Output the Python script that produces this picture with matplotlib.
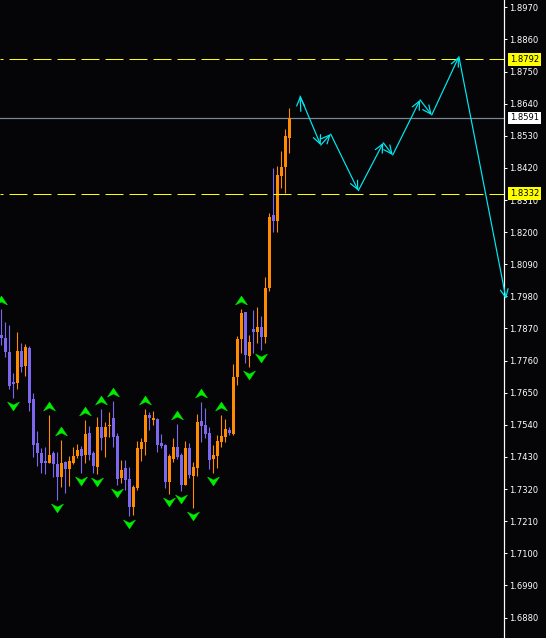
import numpy as np
import matplotlib
matplotlib.use("Agg")
import matplotlib.pyplot as plt
from matplotlib.path import Path
import matplotlib.transforms as mtransforms

# ---------------- data ----------------
opens = [1.7848, 1.7837, 1.7789, 1.7687, 1.7683, 1.7793, 1.7742, 1.7803, 1.7628, 1.7478,
         1.7444, 1.7416, 1.7409, 1.7444, 1.7406, 1.7361, 1.7413, 1.7389, 1.7409, 1.7433,
         1.7457, 1.7437, 1.7512, 1.7444, 1.7396, 1.7533, 1.7498, 1.7536, 1.7563, 1.7502,
         1.7358, 1.7392, 1.7354, 1.7259, 1.7324, 1.7457, 1.7481, 1.7574, 1.7557, 1.7560,
         1.7478, 1.7471, 1.7344, 1.7423, 1.7464, 1.7437, 1.7334, 1.7461, 1.7365, 1.7392,
         1.7553, 1.7539, 1.7512, 1.7423, 1.7433, 1.7481, 1.7498, 1.7522, 1.7509, 1.7704,
         1.7834, 1.7926, 1.7776, 1.7868, 1.7858, 1.7875, 1.7841, 1.8009, 1.8259, 1.8238,
         1.8392, 1.8423, 1.8522]
highs = [1.7937, 1.7892, 1.7882, 1.7717, 1.7858, 1.7820, 1.7817, 1.7810, 1.7649, 1.7519,
         1.7461, 1.7464, 1.7574, 1.7450, 1.7447, 1.7488, 1.7416, 1.7433, 1.7464, 1.7474,
         1.7468, 1.7557, 1.7536, 1.7450, 1.7567, 1.7594, 1.7550, 1.7584, 1.7622, 1.7512,
         1.7420, 1.7420, 1.7396, 1.7334, 1.7485, 1.7495, 1.7594, 1.7584, 1.7587, 1.7563,
         1.7509, 1.7474, 1.7440, 1.7495, 1.7543, 1.7444, 1.7485, 1.7478, 1.7413, 1.7577,
         1.7618, 1.7598, 1.7533, 1.7471, 1.7505, 1.7574, 1.7560, 1.7533, 1.7748, 1.7844,
         1.7937, 1.7926, 1.7848, 1.7933, 1.7944, 1.7913, 1.8046, 1.8266, 1.8420, 1.8426,
         1.8478, 1.8553, 1.8625]
lows = [1.7813, 1.7772, 1.7663, 1.7632, 1.7663, 1.7721, 1.7707, 1.7587, 1.7430, 1.7399,
        1.7375, 1.7372, 1.7409, 1.7361, 1.7283, 1.7327, 1.7307, 1.7330, 1.7406, 1.7426,
        1.7375, 1.7409, 1.7420, 1.7375, 1.7372, 1.7454, 1.7430, 1.7498, 1.7464, 1.7334,
        1.7341, 1.7317, 1.7228, 1.7231, 1.7317, 1.7416, 1.7437, 1.7522, 1.7539, 1.7447,
        1.7461, 1.7324, 1.7303, 1.7413, 1.7423, 1.7313, 1.7334, 1.7358, 1.7255, 1.7365,
        1.7481, 1.7495, 1.7389, 1.7375, 1.7392, 1.7464, 1.7481, 1.7505, 1.7505, 1.7676,
        1.7786, 1.7752, 1.7738, 1.7786, 1.7820, 1.7796, 1.7820, 1.7998, 1.8200, 1.8200,
        1.8351, 1.8334, 1.8471]
closes = [1.7837, 1.7789, 1.7673, 1.7680, 1.7793, 1.7738, 1.7806, 1.7615, 1.7471, 1.7444,
          1.7409, 1.7409, 1.7437, 1.7406, 1.7361, 1.7409, 1.7389, 1.7416, 1.7433, 1.7454,
          1.7433, 1.7509, 1.7437, 1.7399, 1.7533, 1.7495, 1.7533, 1.7539, 1.7498, 1.7354,
          1.7385, 1.7351, 1.7259, 1.7327, 1.7461, 1.7481, 1.7574, 1.7563, 1.7563, 1.7471,
          1.7468, 1.7344, 1.7433, 1.7464, 1.7430, 1.7334, 1.7461, 1.7368, 1.7396, 1.7550,
          1.7536, 1.7509, 1.7420, 1.7437, 1.7485, 1.7502, 1.7526, 1.7512, 1.7704, 1.7834,
          1.7923, 1.7779, 1.7824, 1.7858, 1.7875, 1.7841, 1.8009, 1.8252, 1.8238, 1.8396,
          1.8423, 1.8529, 1.8591]

# fractal bars (1-based bar numbers)
fractal_up_bars = [1, 13, 16, 22, 26, 29, 37, 45, 51, 56, 61]
fractal_down_bars = [4, 15, 21, 25, 30, 33, 43, 46, 49, 54, 63, 66]

# projected zigzag (bar position, price)
zigzag_bar = [75.7, 80.85, 83.35, 90.25, 96.5, 98.85, 105.7, 108.6, 115.4, 127.2]
zigzag_price = [1.8666, 1.8498, 1.8536, 1.8342, 1.8506, 1.8464, 1.8653, 1.8601, 1.8801, 1.7971]

# horizontal levels
level_upper = 1.8792
level_lower = 1.8332
current_price = 1.8591

tick_values = [1.6880, 1.6990, 1.7100, 1.7210, 1.7320, 1.7430, 1.7540, 1.7650, 1.7760,
               1.7870, 1.7980, 1.8090, 1.8200, 1.8310, 1.8420, 1.8530, 1.8640, 1.8750,
               1.8860, 1.8970]
tick_labels = ["%.4f" % v for v in tick_values]

# ---------------- style ----------------
BG = "#050507"
UP = "#ff8c00"
DOWN = "#7b68ee"
FRACTAL = "#00ee00"
ZZ = "#00e8f0"
PX = 0.72  # one pixel in points at 100 dpi

W, H = 546, 638
fig = plt.figure(figsize=(W / 100, H / 100), dpi=100, facecolor=BG)
ax = fig.add_axes([0, 0, 504 / W, 1])
ax.set_facecolor(BG)

bars = np.arange(1, len(opens) + 1)
o = np.array(opens); h = np.array(highs); l = np.array(lows); c = np.array(closes)
colors = np.where(c >= o, UP, DOWN)

ax.vlines(bars, l, h, colors=colors, lw=PX * 1.1, zorder=3)
body_lo = np.minimum(o, c)
body_h = np.maximum(np.abs(c - o), 0.00025)
ax.bar(bars, body_h, bottom=body_lo, width=0.78, color=colors, linewidth=0, zorder=3)

# fractal arrows
up_path = Path([(0, 0.6), (0.8, -0.6), (0, -0.2), (-0.8, -0.6), (0, 0.6)],
               [Path.MOVETO, Path.LINETO, Path.LINETO, Path.LINETO, Path.CLOSEPOLY])
down_path = Path([(0, -0.6), (0.8, 0.6), (0, 0.2), (-0.8, 0.6), (0, -0.6)],
                 [Path.MOVETO, Path.LINETO, Path.LINETO, Path.LINETO, Path.CLOSEPOLY])
up_tr = mtransforms.offset_copy(ax.transData, fig=fig, x=0, y=9, units="dots")
dn_tr = mtransforms.offset_copy(ax.transData, fig=fig, x=0, y=-8, units="dots")
ub = np.array(fractal_up_bars)
db = np.array(fractal_down_bars)
ax.plot(ub, h[ub - 1], linestyle="none", marker=up_path, ms=8.6, color=FRACTAL,
        mec=FRACTAL, mew=0.3, transform=up_tr, zorder=4, clip_on=False)
ax.plot(db, l[db - 1], linestyle="none", marker=down_path, ms=8.6, color=FRACTAL,
        mec=FRACTAL, mew=0.3, transform=dn_tr, zorder=4, clip_on=False)

# horizontal levels
ax.axhline(current_price, color="#778899", lw=PX * 1.2, zorder=2)
for lev in (level_upper, level_lower):
    ax.axhline(lev, color="#ffff00", lw=PX, linestyle=(15, (18, 6)), zorder=5)

# projected zigzag with arrowheads
ax.annotate("", xy=(zigzag_bar[0], zigzag_price[0]), xycoords="data",
            xytext=(0.5, -11), textcoords="offset points",
            arrowprops=dict(arrowstyle="->,head_length=0.6,head_width=0.28",
                            color=ZZ, lw=PX * 1.2, shrinkA=0, shrinkB=0),
            zorder=6, annotation_clip=False)
for k in range(len(zigzag_bar) - 1):
    ax.annotate("", xy=(zigzag_bar[k + 1], zigzag_price[k + 1]), xycoords="data",
                xytext=(zigzag_bar[k], zigzag_price[k]), textcoords="data",
                arrowprops=dict(arrowstyle="->,head_length=0.6,head_width=0.28",
                                color=ZZ, lw=PX * 1.2, shrinkA=0, shrinkB=0),
                zorder=6, annotation_clip=False)

# axes
x0 = 1 - 1.3 / 4
ax.set_xlim(x0, x0 + 504 / 4)
ax.set_ylim(1.6810, 1.8995)
ax.set_xticks([])
ax.set_yticks(tick_values)
ax.set_yticklabels(tick_labels)
ax.yaxis.tick_right()
ax.tick_params(axis="y", colors="white", labelcolor="white", labelsize=6,
               direction="out", length=2.2, width=PX, pad=1.6)
for s in ("left", "top", "bottom"):
    ax.spines[s].set_visible(False)
ax.spines["right"].set_color("white")
ax.spines["right"].set_linewidth(PX * 1.2)

# price tags
for val, bg in ((level_upper, "#ffff00"), (current_price, "#ffffff"), (level_lower, "#ffff00")):
    ax.annotate("%.4f" % val, xy=(1, val), xycoords=("axes fraction", "data"),
                xytext=(4.3, 0), textcoords="offset points", ha="left", va="center",
                fontsize=6, color="black", annotation_clip=False, zorder=7,
                bbox=dict(boxstyle="square,pad=0.22", fc=bg, ec="none"))

fig.savefig("out.png", dpi=100, facecolor=BG)
